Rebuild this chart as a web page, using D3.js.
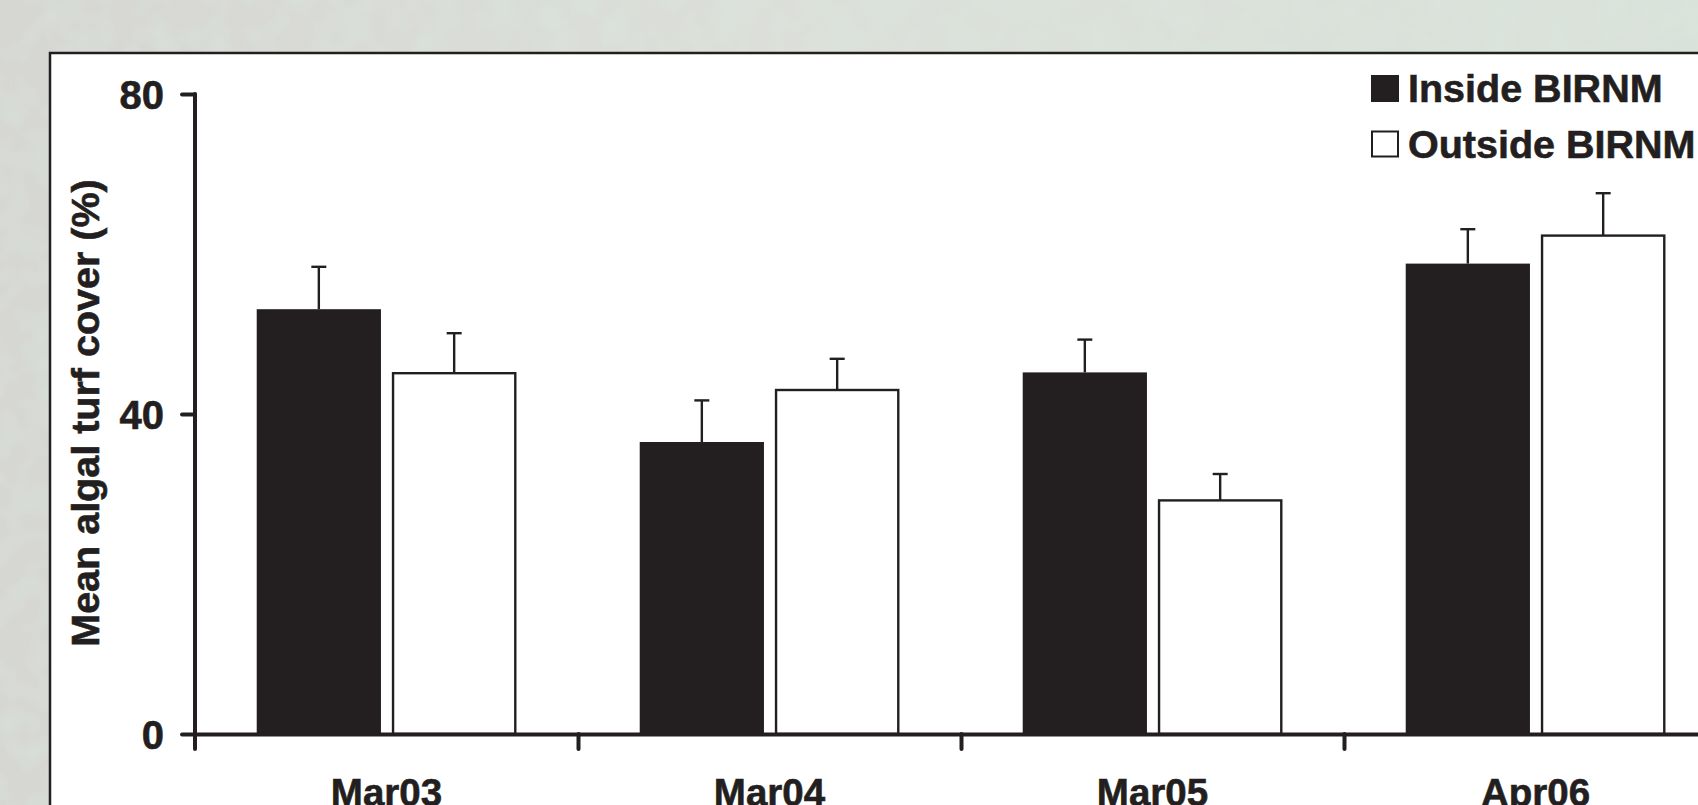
<!DOCTYPE html>
<html>
<head>
<meta charset="utf-8">
<script src="https://cdn.jsdelivr.net/npm/d3@7"></script>
<style>
  html, body { margin: 0; padding: 0; overflow: hidden; background: #d8dbd7; }
  svg { display: block; font-family: Arial, "Liberation Sans", Helvetica, sans-serif; font-weight: bold; }
  svg text { stroke: #231f20; stroke-width: 0.6px; }
</style>
</head>
<body>
<div id="chart"></div>
<script>
// values (percent cover, mean + SE)
const categories = ['Mar03', 'Mar04', 'Mar05', 'Apr06'];
const series = ['Inside BIRNM', 'Outside BIRNM'];
const insideMeans = [53.1, 36.5, 45.2, 58.8];
const insideErr = [5.3, 5.2, 4.1, 4.3];
const outsideMeans = [45.1, 43.0, 29.2, 62.3];
const outsideErr = [5.0, 3.9, 3.3, 5.3];
const yTicks = [0, 40, 80];

const width = 1698, height = 805;
const ink = '#231f20';

// plot frame
const m = { left: 195, top: 94, bottom: 734 };
const bandStep = 383;
const xRight = m.left + bandStep * categories.length;

const svg = d3.select('#chart')
    .append('svg')
        .attr('width', width)
        .attr('height', height);

// mottled backdrop
const defs = svg.append('defs');
const grad = defs.append('linearGradient')
    .attr('id', 'bg')
    .attr('x1', 0).attr('x2', 1).attr('y1', 0).attr('y2', 0);
grad.append('stop').attr('offset', '0%').attr('stop-color', '#d6d6d3');
grad.append('stop').attr('offset', '45%').attr('stop-color', '#dcdfd9');
grad.append('stop').attr('offset', '100%').attr('stop-color', '#d9e2da');

const noise = defs.append('filter').attr('id', 'noise');
noise.append('feTurbulence')
    .attr('type', 'fractalNoise')
    .attr('baseFrequency', 0.035)
    .attr('numOctaves', 2)
    .attr('seed', 4);
noise.append('feColorMatrix')
    .attr('type', 'matrix')
    .attr('values', '0 0 0 0 0.70  0 0 0 0 0.82  0 0 0 0 0.75  0 0 0 1.1 -0.4');

svg.append('rect')
    .attr('width', width)
    .attr('height', height)
    .attr('fill', 'url(#bg)');
svg.append('rect')
    .attr('width', width)
    .attr('height', height)
    .attr('filter', 'url(#noise)')
    .attr('opacity', 0.7);

// white panel, runs off the right and bottom edges
svg.append('rect')
    .attr('x', 50)
    .attr('y', 53)
    .attr('width', width)
    .attr('height', height)
    .attr('fill', '#fff')
    .attr('stroke', ink)
    .attr('stroke-width', 2.5);

const x0 = d3.scaleBand()
    .domain(categories)
    .range([m.left, xRight]);

const x1 = d3.scaleBand()
    .domain(series)
    .range([0, x0.bandwidth()])
    .paddingInner(0.082)
    .paddingOuter(0.456);

const xEdges = d3.scaleLinear()
    .domain([0, categories.length])
    .range([m.left, xRight]);

const y = d3.scaleLinear()
    .domain([0, 80])
    .range([m.bottom, m.top]);

const rows = categories.map((c, i) => ({
    cat: c,
    values: [
        { key: series[0], mean: insideMeans[i], se: insideErr[i] },
        { key: series[1], mean: outsideMeans[i], se: outsideErr[i] }
    ]
}));

const groups = svg.append('g')
    .selectAll('g')
    .data(rows)
    .enter()
    .append('g')
        .attr('transform', d => 'translate(' + x0(d.cat) + ',0)');

// error bars (upper only) go under the bar outline
const bars = groups.selectAll('g.bar')
    .data(d => d.values)
    .enter()
    .append('g')
        .attr('class', 'bar');

bars.append('line')
    .attr('x1', d => x1(d.key) + x1.bandwidth() / 2)
    .attr('x2', d => x1(d.key) + x1.bandwidth() / 2)
    .attr('y1', d => y(d.mean))
    .attr('y2', d => y(d.mean + d.se))
    .attr('stroke', ink)
    .attr('stroke-width', 2.4);

bars.append('line')
    .attr('x1', d => x1(d.key) + x1.bandwidth() / 2 - 7.5)
    .attr('x2', d => x1(d.key) + x1.bandwidth() / 2 + 7.5)
    .attr('y1', d => y(d.mean + d.se))
    .attr('y2', d => y(d.mean + d.se))
    .attr('stroke', ink)
    .attr('stroke-width', 2.4);

bars.append('rect')
    .attr('x', d => x1(d.key) + (d.key === series[0] ? 0 : 1))
    .attr('y', d => y(d.mean))
    .attr('width', d => x1.bandwidth() - (d.key === series[0] ? 0 : 2))
    .attr('height', d => y(0) - y(d.mean))
    .attr('fill', d => d.key === series[0] ? ink : '#fff')
    .attr('stroke', d => d.key === series[0] ? 'none' : ink)
    .attr('stroke-width', 2.4);

// y axis
const yAxis = svg.append('g')
    .attr('transform', 'translate(' + m.left + ',0)')
    .call(d3.axisLeft(y).tickValues(yTicks).tickSize(13).tickSizeOuter(0).tickPadding(18));

yAxis.select('.domain')
    .attr('d', 'M0,' + m.top + 'V' + (m.bottom + 15));

yAxis.selectAll('line, path')
    .attr('stroke', ink)
    .attr('stroke-width', 4)
    .attr('stroke-linecap', 'round');

yAxis.selectAll('text')
    .attr('fill', ink)
    .style('font-size', '40px')
    .style('font-weight', 'bold')
    .attr('dy', '0.36em');

// x axis: ticks at group edges, labels at group centres
const xAxis = svg.append('g')
    .attr('transform', 'translate(0,' + m.bottom + ')')
    .call(d3.axisBottom(xEdges).tickValues(d3.range(1, categories.length)).tickSize(15).tickSizeOuter(0).tickFormat(''));

xAxis.selectAll('line, path')
    .attr('stroke', ink)
    .attr('stroke-width', 4)
    .attr('stroke-linecap', 'round');

svg.append('g')
    .selectAll('text')
    .data(categories)
    .enter()
    .append('text')
        .attr('x', d => x0(d) + x0.bandwidth() / 2)
        .attr('y', 806)
        .attr('text-anchor', 'middle')
        .attr('fill', ink)
        .style('font-size', '38.5px')
        .text(d => d);

// y title
svg.append('text')
    .attr('transform', 'translate(99,413) rotate(-90)')
    .attr('text-anchor', 'middle')
    .attr('fill', ink)
    .style('font-size', '39.5px')
    .text('Mean algal turf cover (%)');

// legend
const legend = svg.append('g')
    .attr('transform', 'translate(1371,75)')
    .selectAll('g')
    .data(series)
    .enter()
    .append('g')
        .attr('transform', (d, i) => 'translate(0,' + i * 55.5 + ')');

legend.append('rect')
    .attr('x', (d, i) => i ? 1 : 0)
    .attr('y', (d, i) => i ? 1 : 0)
    .attr('width', (d, i) => i ? 26 : 28)
    .attr('height', (d, i) => i ? 25 : 27)
    .attr('fill', (d, i) => i ? '#fff' : ink)
    .attr('stroke', (d, i) => i ? ink : 'none')
    .attr('stroke-width', 2);

legend.append('text')
    .attr('x', 37)
    .attr('y', 27)
    .attr('fill', ink)
    .style('font-size', '39.5px')
    .text(d => d);
</script>
</body>
</html>
